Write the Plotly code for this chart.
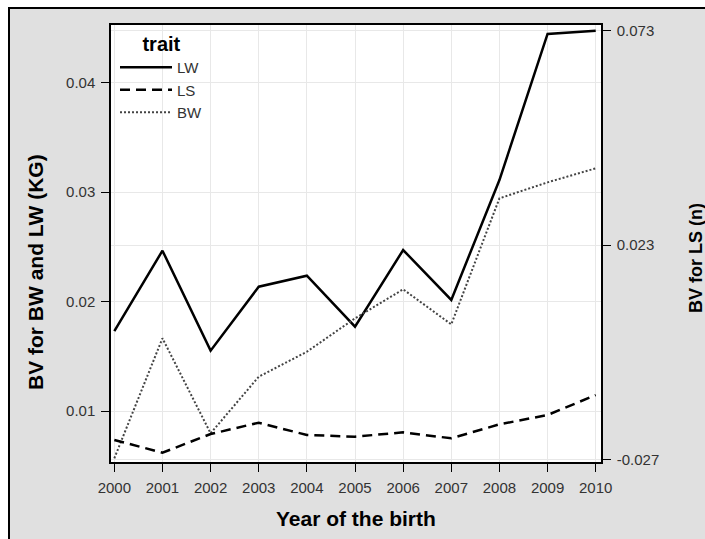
import plotly.graph_objects as go

years = [2000, 2001, 2002, 2003, 2004, 2005, 2006, 2007, 2008, 2009, 2010]
lw = [0.01732, 0.02466, 0.01553, 0.02137, 0.02237, 0.01772, 0.02472, 0.02016, 0.03111, 0.04445, 0.04475]
bw = [0.00570, 0.01666, 0.00798, 0.01315, 0.01543, 0.01848, 0.02113, 0.01793, 0.02944, 0.03090, 0.03218]
ls = [-0.02245, -0.02541, -0.02106, -0.01842, -0.02129, -0.02168, -0.02066, -0.02206, -0.01880, -0.01663, -0.01197]
left_ticks = [0.01, 0.02, 0.03, 0.04]
left_labels = ["0.01", "0.02", "0.03", "0.04"]
right_ticks = [-0.027, 0.023, 0.073]
right_labels = ["-0.027", "0.023", "0.073"]

FONT = "Liberation Sans, Arial, sans-serif"

fig = go.Figure()
fig.add_trace(go.Scatter(x=years, y=lw, name="LW", mode="lines",
                         line=dict(color="black", width=2.5, dash="solid")))
fig.add_trace(go.Scatter(x=years, y=ls, name="LS", mode="lines", yaxis="y2",
                         line=dict(color="black", width=2.5, dash="10px,6px")))
fig.add_trace(go.Scatter(x=years, y=bw, name="BW", mode="lines",
                         line=dict(color="#444444", width=2, dash="2px,2px")))

L, R, T, B = 111, 104, 25, 77
PW, PH = 705 - L - R, 539 - T - B

def px(xp):
    return (xp - L) / PW

def py(yp):
    return (539 - B - yp) / PH

tickfont = dict(family=FONT, size=15, color="#333333")

fig.update_layout(
    width=705, height=539,
    margin=dict(l=L, r=R, t=T, b=B, pad=0),
    paper_bgcolor="white",
    plot_bgcolor="white",
    font=dict(family=FONT, size=15, color="#333333"),
    showlegend=True,
    legend=dict(
        x=px(115), y=py(25), xanchor="left", yanchor="top",
        bgcolor="rgba(0,0,0,0)",
        title=dict(text="<b>trait</b>", font=dict(family=FONT, size=20, color="black"), side="top center"),
        font=dict(family=FONT, size=15, color="#333333"),
        itemwidth=52, tracegroupgap=0,
    ),
    xaxis=dict(
        range=[1999.931, 2010.11],
        tickvals=years, ticktext=[str(y) for y in years],
        showgrid=True, gridcolor="#e8e8e8", gridwidth=1,
        showline=True, linecolor="black", linewidth=1.5, mirror=True,
        ticks="outside", ticklen=8, tickcolor="black", tickwidth=1,
        ticklabelstandoff=3,
        tickfont=tickfont, zeroline=False,
    ),
    yaxis=dict(
        range=[0.005361, 0.045269],
        tickvals=left_ticks, ticktext=left_labels,
        showgrid=True, gridcolor="#e8e8e8", gridwidth=1,
        showline=True, linecolor="black", linewidth=1.5, mirror=True,
        ticks="outside", ticklen=8, tickcolor="black", tickwidth=1,
        ticklabelstandoff=3,
        tickfont=tickfont, zeroline=False,
    ),
    yaxis2=dict(
        overlaying="y", side="right",
        range=[-0.02758, 0.07428],
        tickvals=right_ticks, ticktext=right_labels,
        showgrid=True, gridcolor="#e8e8e8", gridwidth=1,
        showline=True, linecolor="black", linewidth=1.5,
        ticks="outside", ticklen=8, tickcolor="black", tickwidth=1,
        ticklabelstandoff=3,
        tickfont=tickfont, zeroline=False,
    ),
    shapes=[
        dict(type="rect", xref="paper", yref="paper",
             x0=px(9), x1=px(730), y0=py(570), y1=py(8),
             fillcolor="#e0e0e0", line=dict(color="black", width=2), layer="below"),
        dict(type="rect", xref="paper", yref="paper",
             x0=0, x1=1, y0=0, y1=1,
             fillcolor="white", line=dict(width=0), layer="below"),
    ],
    annotations=[
        dict(text="<b>Year of the birth</b>", xref="paper", yref="paper",
             x=px(356), y=py(518), showarrow=False, xanchor="center", yanchor="middle",
             font=dict(family=FONT, size=21, color="black")),
        dict(text="<b>BV for BW and LW (KG)</b>", xref="paper", yref="paper",
             x=px(35), y=py(272), showarrow=False, textangle=-90,
             xanchor="center", yanchor="middle",
             font=dict(family=FONT, size=21, color="black")),
        dict(text="<b>BV for LS (n)</b>", xref="paper", yref="paper",
             x=px(696), y=py(258), showarrow=False, textangle=-90,
             xanchor="center", yanchor="middle",
             font=dict(family=FONT, size=18, color="black")),
    ],
)

fig.write_html(
    "out.html",
    config={"displayModeBar": False},
    post_script="document.body.style.margin='0';document.body.style.overflow='hidden';document.documentElement.style.overflow='hidden';",
)
